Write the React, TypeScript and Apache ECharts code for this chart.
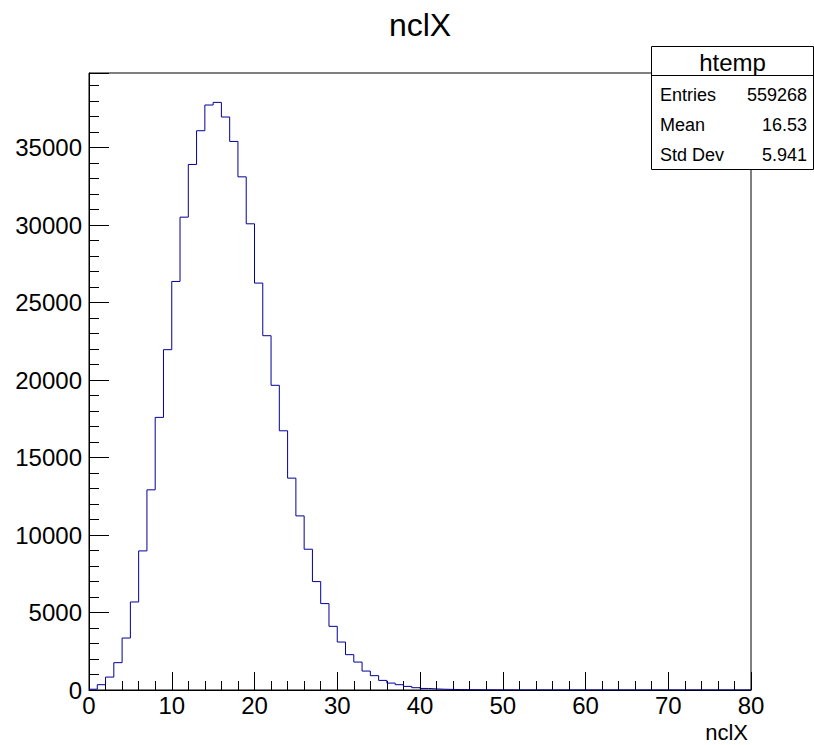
import React, { useEffect, useRef } from "react";
import * as echarts from "echarts";

// Histogram of nclX: 80 bins of width 1 from 0 to 80
const binEdgesMin = 0;
const binEdgesMax = 80;
const counts: number[] = [
  50, 342, 833, 1763, 3353, 5680, 8975, 12915, 17590, 21960,
  26360, 30510, 33910, 36085, 37745, 37915, 36970, 35395, 33110, 30080,
  26255, 22860, 19660, 16725, 13670, 11235, 9083, 6995, 5575, 4108,
  3095, 2280, 1802, 1221, 924, 620, 446, 342, 232, 148,
  100, 70, 50, 38, 28, 20, 15, 11, 8, 6,
  5, 4, 3, 3, 2, 2, 1, 1, 1, 1,
  0, 0, 0, 0, 0, 0, 0, 0, 0, 0,
  0, 0, 0, 0, 0, 0, 0, 0, 0, 0,
];

const titleText = "nclX";
const xAxisTitle = "nclX";
const statsTitle = "htemp";
const statsLabels = ["Entries", "Mean", "Std Dev"];
const statsValues = ["559268", "16.53", "5.941"];

const FONT = '"Liberation Sans", Arial, Helvetica, sans-serif';

export default function App() {
  const ref = useRef<HTMLDivElement>(null);

  useEffect(() => {
    if (!ref.current) return;
    const chart = echarts.init(ref.current, null, { renderer: "svg" });

    const stepData: number[][] = counts.map((c, i) => [binEdgesMin + i, c]);
    stepData.push([binEdgesMax, counts[counts.length - 1]]);
    const yMax = Math.max(...counts) * 1.05;

    const boxL = 651.5, boxT = 46.5, boxR = 813.5, boxB = 169.5;
    const rowY = [95, 125, 155];

    chart.setOption({
      animation: false,
      backgroundColor: "#ffffff",
      grid: {
        left: 89,
        right: 63,
        top: 73,
        bottom: 55,
        show: true,
        borderColor: "#000",
        borderWidth: 1,
        backgroundColor: "transparent",
      },
      xAxis: {
        type: "value",
        min: binEdgesMin,
        max: binEdgesMax,
        interval: 10,
        axisLine: { show: true, onZero: false, lineStyle: { color: "#000", width: 1 } },
        axisTick: { show: true, inside: true, length: 18, lineStyle: { color: "#000", width: 1 } },
        minorTick: { show: true, splitNumber: 5, length: 9, lineStyle: { color: "#000", width: 1 } },
        splitLine: { show: false },
        minorSplitLine: { show: false },
        axisLabel: {
          color: "#000",
          fontFamily: FONT,
          fontSize: 24,
          margin: 3,
          formatter: (v: number) => String(v),
        },
      },
      yAxis: {
        type: "value",
        min: 0,
        max: yMax,
        interval: 5000,
        axisLine: { show: true, lineStyle: { color: "#000", width: 1 } },
        axisTick: { show: true, inside: true, length: 20, lineStyle: { color: "#000", width: 1 } },
        minorTick: { show: true, splitNumber: 5, length: 10, lineStyle: { color: "#000", width: 1 } },
        splitLine: { show: false },
        minorSplitLine: { show: false },
        axisLabel: {
          color: "#000",
          fontFamily: FONT,
          fontSize: 24,
          margin: 7,
          showMaxLabel: false,
          formatter: (v: number) => String(Math.round(v)),
        },
      },
      series: [
        {
          type: "line",
          step: "end",
          data: stepData,
          showSymbol: false,
          symbol: "none",
          lineStyle: { color: "#000099", width: 1 },
          clip: true,
          z: 3,
        },
      ],
      graphic: [
        {
          type: "text",
          x: 420,
          y: 25,
          style: {
            text: titleText,
            font: `32px ${FONT}`,
            fill: "#000",
            textAlign: "center",
            textVerticalAlign: "middle",
          },
        },
        {
          type: "text",
          x: 748,
          y: 732,
          style: {
            text: xAxisTitle,
            font: `22px ${FONT}`,
            fill: "#000",
            textAlign: "right",
            textVerticalAlign: "middle",
          },
        },
        {
          type: "rect",
          z: 100,
          shape: { x: boxL, y: boxT, width: boxR - boxL, height: boxB - boxT },
          style: { fill: "#fff", stroke: "#000", lineWidth: 1 },
        },
        {
          type: "line",
          z: 101,
          shape: { x1: boxL, y1: 75.5, x2: boxR, y2: 75.5 },
          style: { stroke: "#000", lineWidth: 1 },
        },
        {
          type: "text",
          z: 101,
          x: (boxL + boxR) / 2,
          y: 62,
          style: {
            text: statsTitle,
            font: `24px ${FONT}`,
            fill: "#000",
            textAlign: "center",
            textVerticalAlign: "middle",
          },
        },
        ...statsLabels.map((t, i) => ({
          type: "text",
          z: 101,
          x: 660,
          y: rowY[i],
          style: {
            text: t,
            font: `18px ${FONT}`,
            fill: "#000",
            textAlign: "left",
            textVerticalAlign: "middle",
          },
        })),
        ...statsValues.map((t, i) => ({
          type: "text",
          z: 101,
          x: 807,
          y: rowY[i],
          style: {
            text: t,
            font: `18px ${FONT}`,
            fill: "#000",
            textAlign: "right",
            textVerticalAlign: "middle",
          },
        })),
      ],
    });

    return () => {
      chart.dispose();
    };
  }, []);

  return (
    <div
      ref={ref}
      style={{ position: "fixed", left: 0, top: 0, width: 814, height: 745, background: "#fff" }}
    />
  );
}
